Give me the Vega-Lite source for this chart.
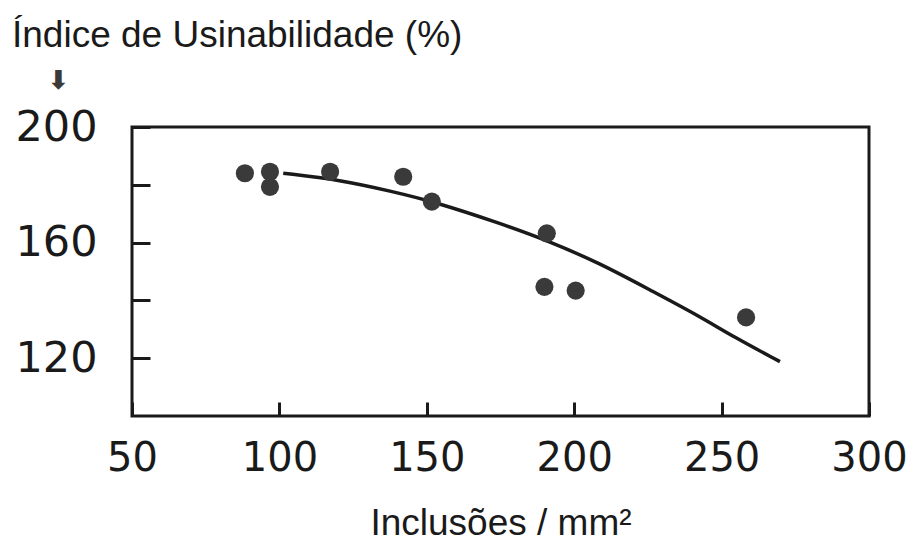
{
  "$schema": "https://vega.github.io/schema/vega-lite/v6.json",
  "autosize": "none",
  "width": 737,
  "height": 289,
  "padding": {"left": 132, "top": 127, "right": 49, "bottom": 137},
  "background": "white",
  "config": {
    "view": {"stroke": "#1a1a1a", "strokeWidth": 3},
    "font": "Liberation Sans"
  },
  "title": {
    "text": "Índice de Usinabilidade (%)",
    "anchor": "start",
    "frame": "group",
    "dx": -120,
    "offset": 12,
    "fontSize": 37,
    "fontWeight": "normal",
    "font": "Liberation Sans",
    "color": "#1a1a1a"
  },
  "datasets": {
    "pontos": [
      {"inclusoes": 88.3, "indice": 184.0},
      {"inclusoes": 96.8, "indice": 184.5},
      {"inclusoes": 96.8, "indice": 179.3},
      {"inclusoes": 117.2, "indice": 184.5},
      {"inclusoes": 142.0, "indice": 182.8},
      {"inclusoes": 151.7, "indice": 174.2},
      {"inclusoes": 190.7, "indice": 163.2},
      {"inclusoes": 189.9, "indice": 144.7},
      {"inclusoes": 200.5, "indice": 143.4},
      {"inclusoes": 258.3, "indice": 134.1}
    ],
    "curva": [
      {"inclusoes": 101.3, "indice": 184.0},
      {"inclusoes": 120.6, "indice": 181.7},
      {"inclusoes": 138.6, "indice": 177.6},
      {"inclusoes": 152.2, "indice": 174.2},
      {"inclusoes": 174.8, "indice": 166.7},
      {"inclusoes": 190.5, "indice": 160.9},
      {"inclusoes": 208.8, "indice": 152.8},
      {"inclusoes": 225.7, "indice": 143.6},
      {"inclusoes": 242.7, "indice": 134.4},
      {"inclusoes": 254.0, "indice": 127.4},
      {"inclusoes": 269.8, "indice": 118.8}
    ]
  },
  "encoding": {
    "x": {
      "field": "inclusoes",
      "type": "quantitative",
      "scale": {"domain": [50, 300], "nice": false},
      "axis": {
        "title": "Inclusões / mm²",
        "titleFont": "Liberation Sans",
        "titleFontSize": 37,
        "titleFontWeight": "normal",
        "titleColor": "#1a1a1a",
        "titlePadding": 27,
        "values": [50, 100, 150, 200, 250, 300],
        "domain": false,
        "grid": false,
        "tickColor": "#1a1a1a",
        "tickWidth": 3,
        "tickSize": -14,
        "labelFont": "DejaVu Sans",
        "labelFontSize": 40,
        "labelColor": "#1a1a1a",
        "labelPadding": 36,
        "labelFlush": false
      }
    },
    "y": {
      "field": "indice",
      "type": "quantitative",
      "scale": {"domain": [100, 200], "nice": false},
      "axis": {
        "title": "⬇",
        "titleAngle": 0,
        "titleFont": "DejaVu Sans",
        "titleFontSize": 26,
        "titleColor": "#3a3a3a",
        "titleX": -74,
        "titleY": -34,
        "values": [120, 140, 160, 180, 200],
        "labelExpr": "datum.value % 40 == 0 ? datum.label : ''",
        "domain": false,
        "grid": false,
        "tickColor": "#1a1a1a",
        "tickWidth": 3,
        "tickSize": -18,
        "labelFont": "DejaVu Sans",
        "labelFontSize": 43,
        "labelColor": "#1a1a1a",
        "labelPadding": 53,
        "labelFlush": false
      }
    }
  },
  "layer": [
    {
      "data": {"name": "curva"},
      "mark": {"type": "line", "interpolate": "basis", "color": "#1a1a1a", "strokeWidth": 3.5}
    },
    {
      "data": {"name": "pontos"},
      "mark": {"type": "circle", "size": 330, "color": "#3a3a3a", "opacity": 1}
    }
  ]
}
